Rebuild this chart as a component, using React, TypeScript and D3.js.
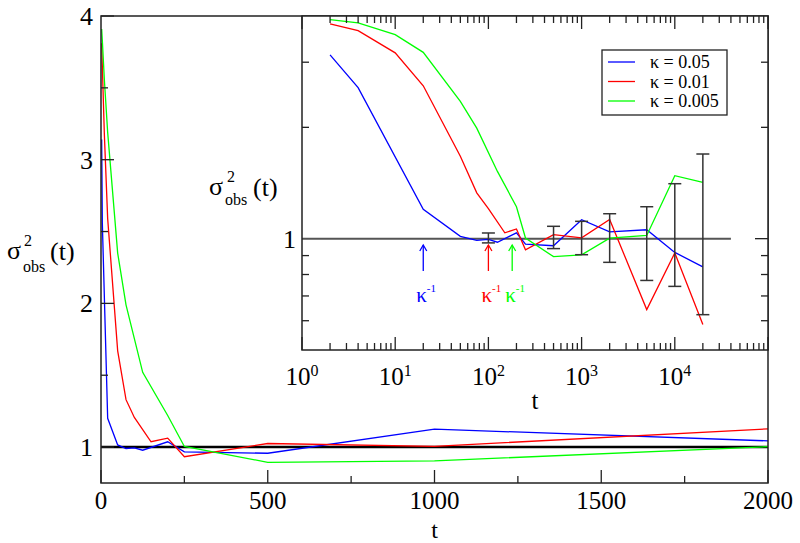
import React from "react";
import * as d3 from "d3";

// ---- data ----
const blueT = [2, 4, 20, 50, 75, 100, 125, 200, 250, 500, 1000, 2000, 5000, 10000, 20000];
const blueV = [3.14, 2.56, 1.2, 1.015, 0.99, 0.995, 0.978, 1.037, 0.967, 0.957, 1.125, 1.043, 1.057, 0.918, 0.839];
const redT = [2, 4, 10, 20, 50, 75, 100, 150, 200, 250, 500, 1000, 2000, 5000, 10000, 20000];
const redV = [3.81, 3.65, 3.18, 2.59, 1.67, 1.33, 1.206, 1.037, 1.062, 0.933, 1.025, 1.005, 1.127, 0.643, 0.915, 0.586];
const greenT = [2, 4, 10, 20, 50, 75, 125, 200, 250, 500, 1000, 2000, 5000, 10000, 20000];
const greenV = [3.91, 3.83, 3.56, 3.19, 2.35, 1.99, 1.52, 1.22, 1.004, 0.894, 0.904, 1.003, 1.02, 1.48, 1.42];
const errT = [100, 500, 1000, 2000, 5000, 10000, 20000];
const errLo = [0.974, 0.94, 0.905, 0.863, 0.771, 0.743, 0.623];
const errHi = [1.036, 1.08, 1.114, 1.168, 1.22, 1.408, 1.694];
const legendLabels = ["κ = 0.05", "κ = 0.01", "κ = 0.005"];
const seriesColors = ["#0000ff", "#ff0000", "#00ff00"];
const arrowT = [20, 100, 180];
const mainXTicks = [0, 500, 1000, 1500, 2000];
const mainXMinor = [250, 750, 1250, 1750];
const mainYTicks = [1, 2, 3, 4];
const mainYMinor = [1.5, 2.5, 3.5];
const insetDecades = [0, 1, 2, 3, 4, 5];
const insetYMinor = [0.6, 0.7, 0.8, 0.9, 2, 3];

const series = [
  { t: blueT, v: blueV },
  { t: redT, v: redV },
  { t: greenT, v: greenV },
];

const FF = "Liberation Serif";
const AX = "#222";

export default function App() {
  const mx = d3.scaleLinear().domain([0, 2000]).range([101, 768]);
  const my = d3.scaleLinear().domain([0.75, 4]).range([483, 16]);
  const ix = d3.scaleLog().domain([1, 1e5]).range([302, 768]);
  const iy = d3.scaleLog().domain([0.5, 4]).range([350, 16]);

  const mainLine = d3.line<[number, number]>().x((d) => mx(d[0])).y((d) => my(d[1]));
  const insetLine = d3.line<[number, number]>().x((d) => ix(d[0])).y((d) => iy(d[1]));

  const [mx0, mx1] = mx.range();
  const [my0, my1] = my.range();
  const [ix0, ix1] = ix.range();
  const [iy0, iy1] = iy.range();

  const insetXMinor: number[] = [];
  for (let e = 0; e < 5; e++) for (let k = 2; k <= 9; k++) insetXMinor.push(k * Math.pow(10, e));

  const ts = { fontFamily: FF };

  return (
    <svg width={800} height={543} style={{ position: "absolute", left: 0, top: 0 }}>
      {/* ---------- main plot ---------- */}
      <line x1={mx0} x2={mx1} y1={my(1)} y2={my(1)} stroke="#000" strokeWidth={2.5} />
      {series.map((s, i) => (
        <path
          key={i}
          d={mainLine(s.t.map((t, j) => [t, s.v[j]] as [number, number]).filter((d) => d[0] <= 2000)) || ""}
          fill="none"
          stroke={seriesColors[i]}
          strokeWidth={1.3}
        />
      ))}
      <rect x={mx0} y={my1} width={mx1 - mx0} height={my0 - my1} fill="none" stroke={AX} strokeWidth={1.5} />
      {mainXTicks.map((t) => (
        <line key={"mxt" + t} x1={mx(t)} x2={mx(t)} y1={my0} y2={my0 - 13} stroke={AX} strokeWidth={1.3} />
      ))}
      {mainXTicks.map((t) => (
        <text key={"mxl" + t} x={mx(t)} y={509} fontSize={25} textAnchor="middle" style={ts}>
          {t}
        </text>
      ))}
      {mainXMinor.map((t) => (
        <line key={"mxm" + t} x1={mx(t)} x2={mx(t)} y1={my0} y2={my0 - 7} stroke={AX} strokeWidth={1.3} />
      ))}
      {mainYTicks.map((v) => (
        <line key={"myt" + v} x1={mx0} x2={mx0 + 13} y1={my(v)} y2={my(v)} stroke={AX} strokeWidth={1.3} />
      ))}
      {mainYTicks.map((v) => (
        <text key={"myl" + v} x={93} y={my(v) + 9} fontSize={26} textAnchor="end" style={ts}>
          {v}
        </text>
      ))}
      {mainYMinor.map((v) => (
        <line key={"mym" + v} x1={mx0} x2={mx0 + 7} y1={my(v)} y2={my(v)} stroke={AX} strokeWidth={1.3} />
      ))}
      <text x={(mx0 + mx1) / 2} y={538} fontSize={24} textAnchor="middle" style={ts}>t</text>
      <text x={7} y={259} fontSize={26} style={ts}>σ</text>
      <text x={24} y={246} fontSize={16} style={ts}>2</text>
      <text x={23} y={272} fontSize={16} style={ts}>obs</text>
      <text x={50} y={260} fontSize={26} style={ts}>(t)</text>

      {/* ---------- inset ---------- */}
      <rect x={ix0} y={iy1} width={ix1 - ix0} height={iy0 - iy1} fill="#fff" />
      <line x1={ix0} x2={ix(40000)} y1={iy(1)} y2={iy(1)} stroke="#555" strokeWidth={2} />
      {series.map((s, i) => (
        <path
          key={"in" + i}
          d={insetLine(s.t.map((t, j) => [t, s.v[j]] as [number, number])) || ""}
          fill="none"
          stroke={seriesColors[i]}
          strokeWidth={1.3}
        />
      ))}
      {errT.map((t, i) => (
        <g key={"err" + t} stroke="#333" strokeWidth={1.5}>
          <line x1={ix(t)} x2={ix(t)} y1={iy(errLo[i])} y2={iy(errHi[i])} />
          <line x1={ix(t) - 6.5} x2={ix(t) + 6.5} y1={iy(errLo[i])} y2={iy(errLo[i])} />
          <line x1={ix(t) - 6.5} x2={ix(t) + 6.5} y1={iy(errHi[i])} y2={iy(errHi[i])} />
        </g>
      ))}
      <rect x={ix0} y={iy1} width={ix1 - ix0} height={iy0 - iy1} fill="none" stroke={AX} strokeWidth={1.5} />
      {insetDecades.map((e) => (
        <g key={"dec" + e}>
          <line x1={ix(Math.pow(10, e))} x2={ix(Math.pow(10, e))} y1={iy0} y2={iy0 - 13} stroke={AX} strokeWidth={1.3} />
          <line x1={ix(Math.pow(10, e))} x2={ix(Math.pow(10, e))} y1={iy1} y2={iy1 + 13} stroke={AX} strokeWidth={1.3} />
        </g>
      ))}
      {insetDecades.slice(0, 5).map((e) => (
        <text key={"decl" + e} x={ix(Math.pow(10, e))} y={385} fontSize={25} textAnchor="middle" style={ts}>
          10<tspan dy={-9} fontSize={16}>{e}</tspan>
        </text>
      ))}
      {insetXMinor.map((t) => (
        <g key={"ixm" + t}>
          <line x1={ix(t)} x2={ix(t)} y1={iy0} y2={iy0 - 7} stroke={AX} strokeWidth={1.3} />
          <line x1={ix(t)} x2={ix(t)} y1={iy1} y2={iy1 + 7} stroke={AX} strokeWidth={1.3} />
        </g>
      ))}
      {insetYMinor.map((v) => (
        <g key={"iym" + v}>
          <line x1={ix0} x2={ix0 + 7} y1={iy(v)} y2={iy(v)} stroke={AX} strokeWidth={1.3} />
          <line x1={ix1} x2={ix1 - 7} y1={iy(v)} y2={iy(v)} stroke={AX} strokeWidth={1.3} />
        </g>
      ))}
      <line x1={ix1} x2={ix1 - 13} y1={iy(1)} y2={iy(1)} stroke={AX} strokeWidth={1.3} />
      <text x={296} y={iy(1) + 9} fontSize={26} textAnchor="end" style={ts}>1</text>
      <text x={(ix0 + ix1) / 2} y={409} fontSize={25} textAnchor="middle" style={ts}>t</text>
      <text x={209} y={195} fontSize={26} style={ts}>σ</text>
      <text x={227} y={182} fontSize={16} style={ts}>2</text>
      <text x={225} y={205} fontSize={16} style={ts}>obs</text>
      <text x={253} y={196} fontSize={26} style={ts}>(t)</text>

      {/* arrows */}
      {arrowT.map((t, i) => (
        <g key={"arr" + i} stroke={seriesColors[i]} strokeWidth={1.3} fill="none">
          <line x1={ix(t)} x2={ix(t)} y1={245} y2={271} />
          <polyline points={`${ix(t) - 3.5},251 ${ix(t)},245 ${ix(t) + 3.5},251`} />
        </g>
      ))}
      {arrowT.map((t, i) => (
        <text key={"arrl" + i} x={ix(t) - 7} y={302} fontSize={21} fill={seriesColors[i]} style={ts}>
          κ<tspan dy={-10} fontSize={11}>-1</tspan>
        </text>
      ))}

      {/* legend */}
      <rect x={602} y={50} width={125} height={65} fill="#fff" stroke="#222" strokeWidth={1.3} />
      {legendLabels.map((l, i) => (
        <line key={"legl" + i} x1={608} x2={635} y1={62 + i * 19.5} y2={62 + i * 19.5} stroke={seriesColors[i]} strokeWidth={1.3} />
      ))}
      {legendLabels.map((l, i) => (
        <text key={"legt" + i} x={650} y={68 + i * 19.5} fontSize={18} style={ts}>
          {l}
        </text>
      ))}
    </svg>
  );
}
